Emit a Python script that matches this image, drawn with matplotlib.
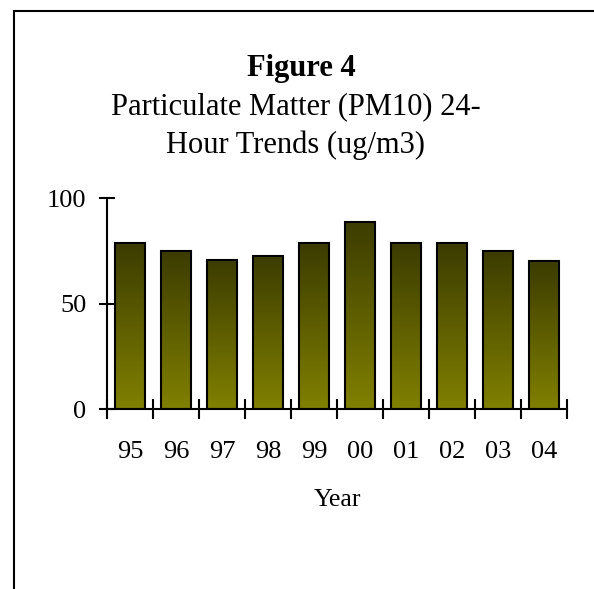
import matplotlib
matplotlib.use("Agg")
import matplotlib.pyplot as plt
import numpy as np
from matplotlib.colors import LinearSegmentedColormap
from matplotlib.lines import Line2D

years = ["95", "96", "97", "98", "99", "00", "01", "02", "03", "04"]
values = [78.5, 74.7, 70.8, 72.7, 78.5, 88.8, 78.5, 78.5, 74.7, 70.0]
yticks = [0, 50, 100]

title_bold = "Figure 4"
title_lines = ["Particulate Matter (PM10) 24-", "Hour Trends (ug/m3)"]
xlabel = "Year"

plt.rcParams['font.family'] = ['Liberation Serif', 'DejaVu Serif']
FS = 19
TFS = 22

W, H = 594, 589
fig = plt.figure(figsize=(W / 100, H / 100), dpi=100)
ax = fig.add_axes([107 / W, 1 - 409 / H, (567 - 107) / W, (409 - 198) / H])

x = np.arange(len(years))
cmap = LinearSegmentedColormap.from_list("olive", ["#808000", "#3c3c00"])
grad = np.linspace(0, 1, 256).reshape(-1, 1)
bars = ax.bar(x, values, width=0.65, facecolor="none", edgecolor="black", linewidth=1.5, zorder=3)
for b, v in zip(bars, values):
    x0 = b.get_x()
    im = ax.imshow(grad, extent=[x0, x0 + b.get_width(), 0, v], origin="lower",
                   cmap=cmap, aspect="auto", zorder=2, vmin=0, vmax=1)
    im.set_clip_path(b)

ax.set_xlim(-0.5, len(years) - 0.5)
ax.set_ylim(0, 100)

for s in ["top", "right"]:
    ax.spines[s].set_visible(False)
for s in ["left", "bottom"]:
    ax.spines[s].set_linewidth(1.5)

ax.set_yticks(yticks)
ax.set_yticklabels([str(t) for t in yticks])
ax.set_xticks(np.arange(len(years) + 1) - 0.5, minor=False)
ax.set_xticklabels([""] * (len(years) + 1))
ax.set_xticks(x, minor=True)
ax.set_xticklabels(years, minor=True)
ax.tick_params(axis="x", which="major", direction="inout", length=14, width=1.5)
ax.tick_params(axis="x", which="minor", length=0, pad=23, labelsize=FS)
ax.tick_params(axis="y", direction="inout", length=12, width=1.5, pad=9, labelsize=FS)

ax.set_xlabel(xlabel, fontsize=18.5, labelpad=19)

fig.text(301 / W, 1 - 76 / H, title_bold, ha="center", va="baseline", fontsize=TFS, fontweight="bold")
fig.text(296 / W, 1 - 114 / H, title_lines[0], ha="center", va="baseline", fontsize=TFS)
fig.text(296 / W, 1 - 153 / H, title_lines[1], ha="center", va="baseline", fontsize=TFS)

fx = 14 / W
fy = 1 - 11 / H
fig.add_artist(Line2D([fx, fx, 1.0], [0.0, fy, fy], transform=fig.transFigure,
                      color="black", linewidth=1.5, solid_joinstyle="miter"))

fig.savefig("out.png", dpi=100)
